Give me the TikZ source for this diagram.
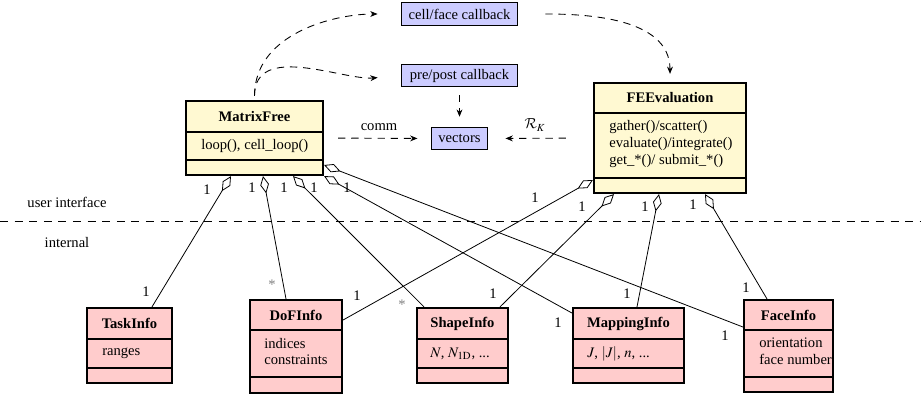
\documentclass[tikz,border=0pt]{standalone}
\usepackage{mathptmx}
\DeclareMathAlphabet{\mathcal}{OMS}{cmsy}{m}{n}
\usepackage{fontspec}
\setmainfont{Liberation Serif}
\usetikzlibrary{arrows.meta,fit,calc}
\definecolor{clsyel}{RGB}{255,249,210}
\definecolor{clspink}{RGB}{255,204,204}
\definecolor{cbblue}{RGB}{204,204,255}
\tikzset{
  clsbox/.style={draw, line width=1.5pt, inner sep=0pt},
  clsline/.style={line width=1.5pt},
  ttl/.style={font=\bfseries, inner sep=0pt},
  bdy/.style={anchor=west, align=left, inner sep=0pt, font=\fontsize{10}{11.6}\selectfont},
  cbbox/.style={draw, line width=0.7pt, fill=cbblue, inner sep=0pt, minimum width=78.8pt, minimum height=15.1pt},
  dsh/.style={dash pattern=on 5pt off 4pt, line width=0.6pt, -{Stealth[length=5pt,width=4pt]}},
  agg/.style={line width=0.55pt, {Diamond[open,length=12pt,width=6pt,line width=0.55pt]}-},
  mult/.style={inner sep=0pt},
  star/.style={inner sep=0pt, text=gray},
  lbl/.style={inner sep=0pt},
}
\newcommand\umlcls[8]{%
  \node[clsbox, fill=#8, fit={(#2,#3) (#4,#5)}] (#1) {};
  \draw[clsline] (#2,#6) -- (#4,#6) (#2,#7) -- (#4,#7);
}
\begin{document}
\begin{tikzpicture}[x=0.685pt, y=-0.685pt]
\useasboundingbox (0,0) rectangle (921,394);

% separator
\coordinate (sepL) at (0,221.7);
\coordinate (sepR) at (921,221.7);
\draw[dash pattern=on 5.5pt off 4.5pt, line width=0.6pt] (sepL) -- (sepR);
\node[lbl] (ui) at (67,202) {user interface};
\node[lbl] (int) at (67,243) {internal};

% callback boxes
\node[cbbox] (cf) at (459.5,14) {cell/face callback};
\node[cbbox] (pp) at (459.5,75.5) {pre/post callback};
\node[cbbox, minimum width=37.7pt] (vec) at (459.5,138.5) {vectors};

% class boxes
\umlcls{mf}{186}{101}{323}{175}{132}{160}{clsyel}
\node[ttl] (mf-t) at (254.5,116.5) {MatrixFree};
\node[bdy] (mf-b) at (201,146) {loop(), cell\_loop()};

\umlcls{fe}{594}{83}{746}{193}{113}{178}{clsyel}
\node[ttl] (fe-t) at (670,98) {FEEvaluation};
\node[bdy] (fe-b) at (609,144) {gather()/scatter()\\evaluate()/integrate()\\get\_*()/ submit\_*()};

\umlcls{ti}{87}{308}{172}{383}{339}{368}{clspink}
\node[ttl] (ti-t) at (129.5,323.5) {TaskInfo};
\node[bdy] (ti-b) at (102,353.5) {ranges};

\umlcls{dof}{250}{300}{342}{393}{330}{377}{clspink}
\node[ttl] (dof-t) at (296,315) {DoFInfo};
\node[bdy] (dof-b) at (264,351.5) {indices\\constraints};

\umlcls{si}{417}{308}{508}{383}{339}{368}{clspink}
\node[ttl] (si-t) at (462.5,323.5) {ShapeInfo};
\node[bdy] (si-b) at (430,353.5) {$N$, $N_{1\mathrm{D}}$, ...};

\umlcls{mi}{573}{308}{684}{383}{339}{368}{clspink}
\node[ttl] (mi-t) at (628.5,323.5) {MappingInfo};
\node[bdy] (mi-b) at (587,353.5) {$J$, $|J|$, $n$, ...};

\umlcls{fi}{744}{300}{833}{392}{330}{377}{clspink}
\node[ttl] (fi-t) at (788.5,315) {FaceInfo};
\node[bdy] (fi-b) at (759,351.5) {orientation\\face number};

% dashed arrows
\draw[dsh, shorten <=2.7pt, shorten >=16.4pt] (mf.north) to[out=90,in=180] (cf.west);
\draw[dsh, shorten <=2.7pt, shorten >=16.4pt] (mf.north) to[out=90,in=185] (pp.west);
\draw[dsh, shorten <=19pt, shorten >=5.5pt] (cf.east) to[out=0,in=90] (fe.north);
\draw[dsh, shorten <=5.5pt, shorten >=7pt] (pp.south) -- (vec.north);
\draw[dsh, shorten <=9.6pt, shorten >=9.6pt] (mf.east) -- (vec.west);
\node[lbl] (comm) at (379,127) {comm};
\draw[dsh, shorten <=18.5pt, shorten >=12.3pt] (fe.west) -- (vec.east);
\node[lbl] (rk) at (535,125) {$\mathcal{R}_K$};

% aggregations
\draw[agg] (mf.south -| 231,0) -- (ti.north -| 152,0);
\draw[agg] (mf.south -| 263,0) -- (dof.north -| 286,0);
\draw[agg] (mf.south -| 293,0) -- (si.north -| 424,0);
\draw[agg] (mf.south east) -- (mi.west |- 0,313);
\draw[agg] (mf.east |- 0,165) -- (fi.west |- 0,327);
\draw[agg] (fe.west |- 0,180) -- (dof.east |- 0,320);
\draw[agg] (fe.south -| 614,0) -- (si.north -| 500,0);
\draw[agg] (fe.south -| 659,0) -- (mi.north -| 637,0);
\draw[agg] (fe.south -| 705,0) -- (fi.north -| 767,0);

% multiplicities
\node[mult] (m1) at (207,190) {1};
\node[mult] (m2) at (252,188) {1};
\node[mult] (m3) at (284,188) {1};
\node[mult] (m4) at (314,188) {1};
\node[mult] (m5) at (347,188) {1};
\node[mult] (m6) at (146,292) {1};
\node[star] (s1) at (272,285) {*};
\node[star] (s2) at (402,305) {*};
\node[mult] (m7) at (357,296) {1};
\node[mult] (m8) at (535,198) {1};
\node[mult] (m9) at (582,207) {1};
\node[mult] (m10) at (645,207) {1};
\node[mult] (m11) at (693,205) {1};
\node[mult] (m12) at (493,294) {1};
\node[mult] (m13) at (627,294) {1};
\node[mult] (m14) at (558,323) {1};
\node[mult] (m15) at (746,288) {1};
\node[mult] (m16) at (725,336) {1};
\end{tikzpicture}
\end{document}
